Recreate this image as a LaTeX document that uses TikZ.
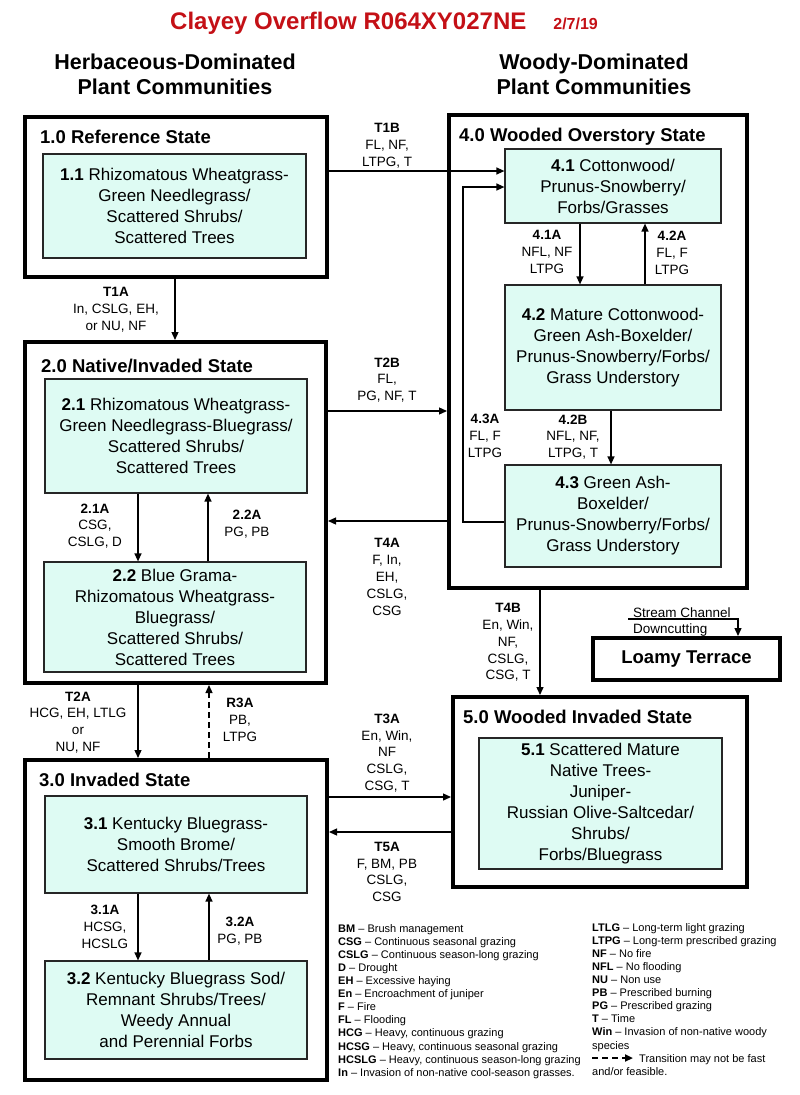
\documentclass[tikz,border=0pt]{standalone}
\usepackage{fontspec}
\setmainfont{Liberation Sans}
\usetikzlibrary{arrows.meta}
\definecolor{boxfill}{RGB}{222,251,243}
\definecolor{titlered}{RGB}{196,16,22}
\begin{document}
\begin{tikzpicture}[x=1pt,y=-1pt,
  outer/.style={draw=black, line width=4pt, inner sep=0pt},
  inner/.style={draw=black!85, line width=1.2pt, fill=boxfill, align=center, inner sep=0pt, font=\fontsize{17}{21}\selectfont},
  sttitle/.style={anchor=base west, inner sep=0pt, font=\fontsize{18.5}{22}\selectfont\bfseries},
  lbl/.style={align=center, inner sep=0pt, font=\fontsize{13.5}{16.8}\selectfont},
  arr/.style={line width=1.3pt, -{Triangle[length=8pt,width=7pt]}},
  dasharr/.style={arr, dash pattern=on 6pt off 4pt},
  legend/.style={align=left, anchor=north west, inner sep=0pt, font=\fontsize{11}{13.1}\selectfont}
]
\useasboundingbox (0,0) rectangle (800,1095);

% title and headings
\node[anchor=base west, inner sep=0pt, text=titlered, font=\bfseries] (title) at (170,29)
  {{\fontsize{24}{28}\selectfont Clayey Overflow R064XY027NE}\hspace{27pt}{\fontsize{16}{19}\selectfont 2/7/19}};
\node[align=center, inner sep=0pt, font=\fontsize{21.5}{25}\selectfont\bfseries] (hl) at (175,74.5) {Herbaceous-Dominated\\Plant Communities};
\node[align=center, inner sep=0pt, font=\fontsize{21.5}{25}\selectfont\bfseries] (hr) at (594,74.5) {Woody-Dominated\\Plant Communities};

% outer state boxes
\node[outer, minimum width=302pt, minimum height=160pt] (s1) at (176,197) {};
\node[outer, minimum width=301pt, minimum height=341pt] (s2) at (175.5,512.5) {};
\node[outer, minimum width=302pt, minimum height=320pt] (s3) at (176,920) {};
\node[outer, minimum width=298pt, minimum height=473pt] (s4) at (598,351.5) {};
\node[outer, minimum width=294pt, minimum height=190pt] (s5) at (600,792) {};
\node[outer, minimum width=187pt, minimum height=42pt, font=\fontsize{18.5}{22}\selectfont\bfseries] (loamy) at (686.5,659) {Loamy Terrace};

\node[sttitle] (t1) at (40,143) {1.0 Reference State};
\node[sttitle] (t2) at (41,372) {2.0 Native/Invaded State};
\node[sttitle] (t3) at (39,786) {3.0 Invaded State};
\node[sttitle] (t4) at (459,141.5) {4.0 Wooded Overstory State};
\node[sttitle] (t5) at (463,723) {5.0 Wooded Invaded State};

% community phase boxes
\node[inner, minimum width=263pt, minimum height=104pt] (b11) at (174.5,206)
  {\textbf{1.1} Rhizomatous Wheatgrass-\\Green Needlegrass/\\Scattered Shrubs/\\Scattered Trees};
\node[inner, minimum width=262pt, minimum height=114pt] (b21) at (176,436)
  {\textbf{2.1} Rhizomatous Wheatgrass-\\Green Needlegrass-Bluegrass/\\Scattered Shrubs/\\Scattered Trees};
\node[inner, minimum width=262pt, minimum height=110pt] (b22) at (175,617)
  {\textbf{2.2} Blue Grama-\\Rhizomatous Wheatgrass-\\Bluegrass/\\Scattered Shrubs/\\Scattered Trees};
\node[inner, minimum width=262pt, minimum height=97pt] (b31) at (176,844.5)
  {\textbf{3.1} Kentucky Bluegrass-\\Smooth Brome/\\Scattered Shrubs/Trees};
\node[inner, minimum width=262pt, minimum height=98pt] (b32) at (176,1010)
  {\textbf{3.2} Kentucky Bluegrass Sod/\\Remnant Shrubs/Trees/\\Weedy Annual\\and Perennial Forbs};
\node[inner, minimum width=216pt, minimum height=74pt] (b41) at (613,186)
  {\textbf{4.1} Cottonwood/\\Prunus-Snowberry/\\Forbs/Grasses};
\node[inner, minimum width=216pt, minimum height=125pt] (b42) at (613,347.5)
  {\textbf{4.2} Mature Cottonwood-\\Green Ash-Boxelder/\\Prunus-Snowberry/Forbs/\\Grass Understory};
\node[inner, minimum width=216pt, minimum height=102pt] (b43) at (613,516)
  {\textbf{4.3} Green Ash-\\Boxelder/\\Prunus-Snowberry/Forbs/\\Grass Understory};
\node[inner, minimum width=243pt, minimum height=131pt] (b51) at (600.5,803.5)
  {\textbf{5.1} Scattered Mature\\Native Trees-\\Juniper-\\Russian Olive-Saltcedar/\\Shrubs/\\Forbs/Bluegrass};

% transitions between states
\draw[arr] (s1.south -| 175,0) -- (s2.north -| 175,0);
\draw[arr] (s1.east |- 0,171) -- (b41.west |- 0,171);
\draw[arr] (s2.east |- 0,411) -- (s4.west |- 0,411);
\draw[arr] (s4.west |- 0,521) -- (s2.east |- 0,521);
\draw[arr] (s2.south -| 138,0) -- (s3.north -| 138,0);
\draw[dasharr] (s3.north -| 209,0) -- (s2.south -| 209,0);
\draw[arr] (s3.east |- 0,797) -- (s5.west |- 0,797);
\draw[arr] (s5.west |- 0,832) -- (s3.east |- 0,832);
\draw[arr] (s4.south -| 540,0) -- (s5.north -| 540,0);

% community pathways
\draw[arr] (b21.south -| 138,0) -- (b22.north -| 138,0);
\draw[arr] (b22.north -| 208,0) -- (b21.south -| 208,0);
\draw[arr] (b31.south -| 138,0) -- (b32.north -| 138,0);
\draw[arr] (b32.north -| 209,0) -- (b31.south -| 209,0);
\draw[arr] (b41.south -| 580,0) -- (b42.north -| 580,0);
\draw[arr] (b42.north -| 645,0) -- (b41.south -| 645,0);
\draw[arr] (b42.south -| 611,0) -- (b43.north -| 611,0);
\draw[arr] (b43.west |- 0,522) -- (463,522) -- (463,187) -- (b41.west |- 0,187);

% stream channel
\node[anchor=base west, inner sep=0pt, font=\fontsize{13.5}{16}\selectfont] (sc1) at (633,617) {Stream Channel};
\node[anchor=base west, inner sep=0pt, font=\fontsize{13.5}{16}\selectfont] (sc2) at (633,633) {Downcutting};
\coordinate (scs) at (628,619);
\draw[arr] (scs) -| (loamy.north -| 738,0);

% transition labels
\node[lbl] (l1a) at (116,310) {\textbf{T1A}\\In, CSLG, EH,\\or NU, NF};
\node[lbl] (l1b) at (387,146) {\textbf{T1B}\\FL, NF,\\LTPG, T};
\node[lbl] (l2b) at (387,380) {\textbf{T2B}\\FL,\\PG, NF, T};
\node[lbl] (l4a) at (387,577) {\textbf{T4A}\\F, In,\\EH,\\CSLG,\\CSG};
\node[lbl] (l21a) at (95,526) {\textbf{2.1A}\\CSG,\\CSLG, D};
\node[lbl] (l22a) at (247,524.5) {\textbf{2.2A}\\PG, PB};
\node[lbl] (l2a) at (78,722.5) {\textbf{T2A}\\HCG, EH, LTLG\\or\\NU, NF};
\node[lbl] (lr3a) at (240,720) {\textbf{R3A}\\PB,\\LTPG};
\node[lbl] (l3a) at (387,753) {\textbf{T3A}\\En, Win,\\NF\\CSLG,\\CSG, T};
\node[lbl] (l5a) at (387,872) {\textbf{T5A}\\F, BM, PB\\CSLG,\\CSG};
\node[lbl] (l31a) at (105,927) {\textbf{3.1A}\\HCSG,\\HCSLG};
\node[lbl] (l32a) at (240,931) {\textbf{3.2A}\\PG, PB};
\node[lbl] (l41a) at (547,252) {\textbf{4.1A}\\NFL, NF\\LTPG};
\node[lbl] (l42a) at (672,253) {\textbf{4.2A}\\FL, F\\LTPG};
\node[lbl] (l42b) at (573,437) {\textbf{4.2B}\\NFL, NF,\\LTPG, T};
\node[lbl] (l43a) at (485,436) {\textbf{4.3A}\\FL, F\\LTPG};
\node[lbl] (l4b) at (508,642.5) {\textbf{T4B}\\En, Win,\\NF,\\CSLG,\\CSG, T};

% legend
\node[legend] (legl) at (338,924) {%
\textbf{BM} – Brush management\\
\textbf{CSG} – Continuous seasonal grazing\\
\textbf{CSLG} – Continuous season-long grazing\\
\textbf{D} – Drought\\
\textbf{EH} – Excessive haying\\
\textbf{En} – Encroachment of juniper\\
\textbf{F} – Fire\\
\textbf{FL} – Flooding\\
\textbf{HCG} – Heavy, continuous grazing\\
\textbf{HCSG} – Heavy, continuous seasonal grazing\\
\textbf{HCSLG} – Heavy, continuous season-long grazing\\
\textbf{In} – Invasion of non-native cool-season grasses.};
\node[legend] (legr) at (592,923) {%
\textbf{LTLG} – Long-term light grazing\\
\textbf{LTPG} – Long-term prescribed grazing\\
\textbf{NF} – No fire\\
\textbf{NFL} – No flooding\\
\textbf{NU} – Non use\\
\textbf{PB} – Prescribed burning\\
\textbf{PG} – Prescribed grazing\\
\textbf{T} – Time\\
\textbf{Win} – Invasion of non-native woody\\
species\\
\hspace*{47pt}Transition may not be fast\\
and/or feasible.};
\coordinate (lg1) at (592,1058);
\coordinate (lg2) at (633,1058);
\draw[dasharr, line width=2pt] (lg1) -- (lg2);
\end{tikzpicture}
\end{document}
